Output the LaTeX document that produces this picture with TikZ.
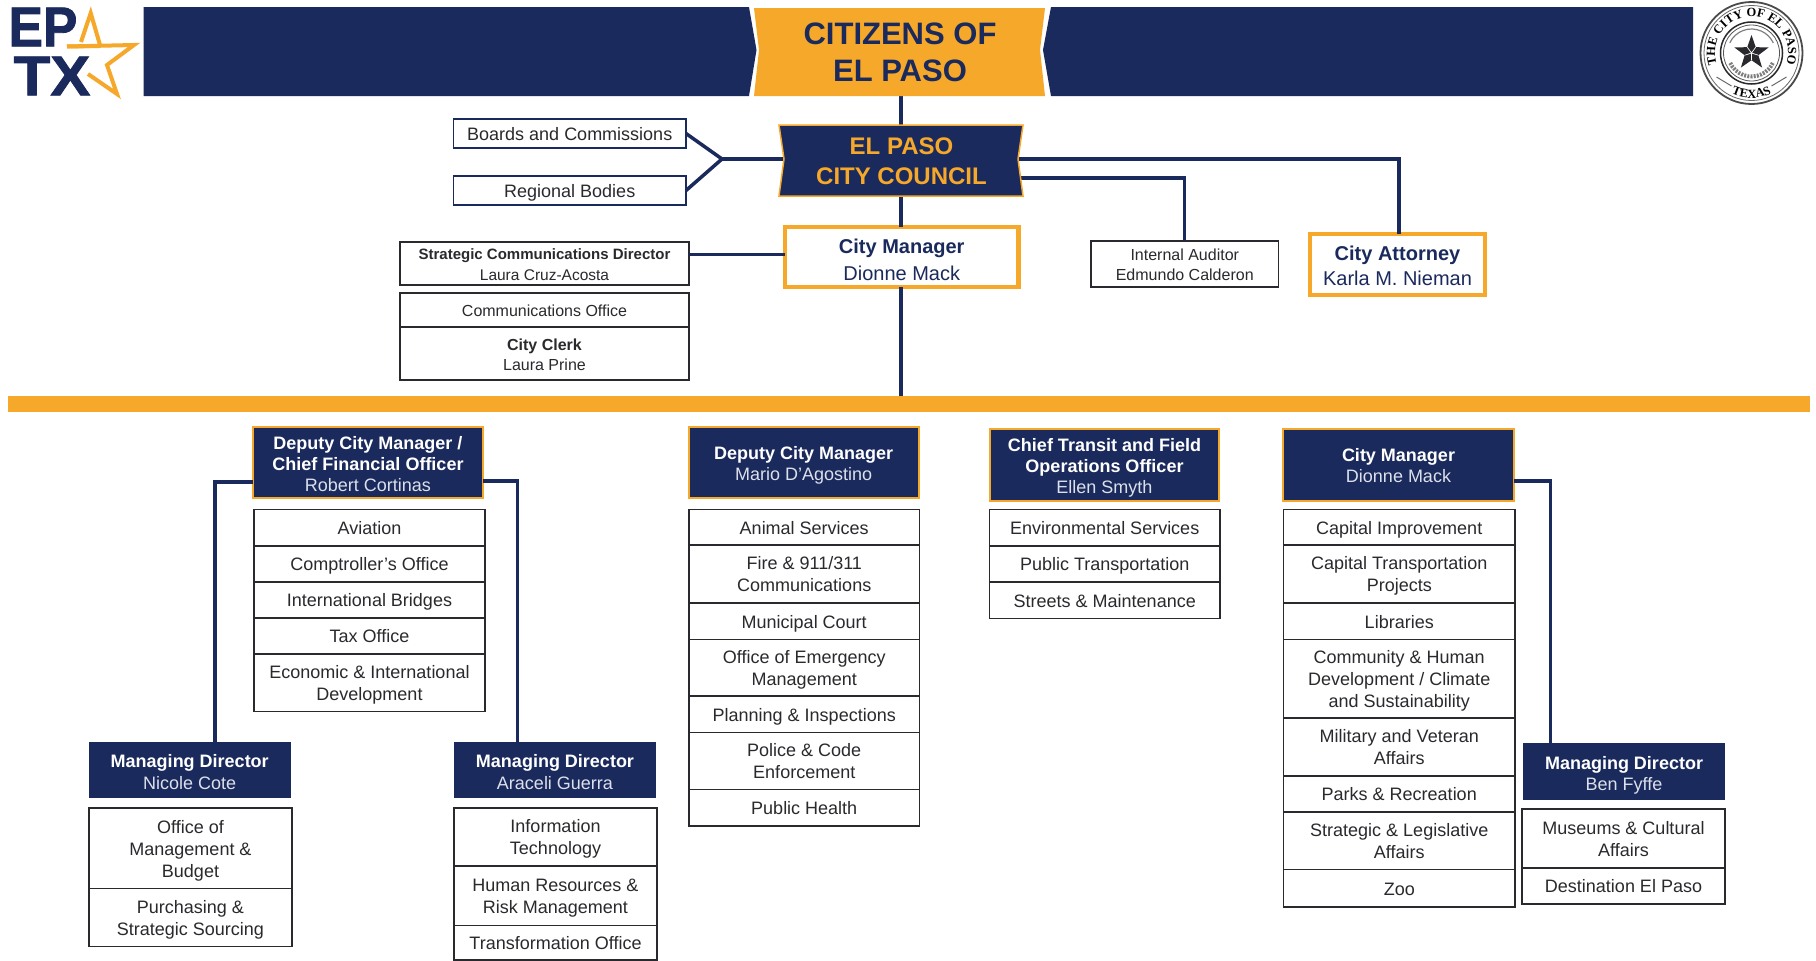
\documentclass[tikz,border=0pt]{standalone}
\usepackage{fontspec}
\setmainfont{Liberation Sans}
\newfontfamily\heavyf[FakeBold=1.5]{Liberation Sans Bold}
\newfontfamily\sealfam{Liberation Serif}
\usetikzlibrary{shapes.geometric,decorations.text}
\definecolor{navy}{HTML}{1B2A5C}
\definecolor{gold}{HTML}{F6A82A}
\definecolor{ink}{HTML}{2A2A2E}
\definecolor{pale}{HTML}{DCE0EA}
\newcommand{\px}[2]{\fontsize{#1}{#2}\selectfont}
\newcommand{\sealtext}{\sealfam\bfseries\fontsize{12.5}{13}\selectfont}
\newcommand{\topstrut}{0pt}
\newcommand{\bx}[7]{\node[#1, minimum width={(#5-#3)*1pt}, minimum height={(#6-#4)*1pt}] (#2) at ({(#3+#5)/2},{(#4+#6)/2}) {\rule{0pt}{\topstrut}#7};}
\tikzset{
  x=1pt,y=-1pt,
  base/.style={inner sep=0pt,outer sep=0pt,align=center},
  strutted/.style={base,execute at begin node={\def\topstrut{#1}},execute at end node={\rule[-3.6pt]{0pt}{3.6pt}}},
  plain/.style={strutted=17.4pt,draw=ink,line width=1.7pt,fill=white,text=ink,font=\px{18}{22}},
  small/.style={strutted=17pt,draw=ink,line width=1.7pt,fill=white,text=ink,font=\px{16}{20}},
  thin/.style={strutted=18pt,draw=navy,line width=1.6pt,fill=white,text=ink,font=\px{18}{22}},
  head/.style={strutted=19.2pt,draw=gold,line width=2pt,fill=navy,text=white,font=\px{18}{21}},
  md/.style={strutted=21pt,fill=navy,text=white,font=\px{18}{21.5}},
  goldbox/.style={strutted=#1,draw=gold,line width=4.5pt,fill=white,text=navy,font=\px{20}{27}},
  label/.style={base},
  conn/.style={draw=navy,line width=3.5pt,line join=miter},
}
\begin{document}
\begin{tikzpicture}
\fill[white] (0,0) rectangle (1816,961);
\useasboundingbox (0,0) rectangle (1816,961);

% anchors for the banner shapes
\bx{base}{citizens}{752}{8}{1046}{96}{}
\bx{base}{council}{784}{125}{1018}{196}{}
\bx{goldbox=24pt}{mgr}{785}{227}{1018.5}{287}{\textbf{City Manager}\\Dionne Mack}
\bx{base,fill=gold}{bar}{8}{396}{1810}{412}{}
\bx{thin}{boards}{453.5}{119}{686}{148}{Boards and Commissions}
\bx{thin}{regional}{453.5}{176}{686}{205}{Regional Bodies}
\bx{small}{strategic}{400}{242}{689}{285}{{\px{15}{20}\textbf{Strategic Communications Director}}\\[1pt]\px{15.5}{20}Laura Cruz-Acosta}
\bx{small}{commoff}{400}{293}{689}{327}{Communications Office}
\bx{small}{clerk}{400}{327}{689}{380}{\textbf{City Clerk}\\\px{16}{20}Laura Prine}
\bx{small}{auditor}{1091}{241}{1278.5}{287}{Internal Auditor\\Edmundo Calderon}
\bx{goldbox=20pt,font=\px{20}{25}}{attorney}{1310}{234}{1485}{295}{\textbf{City Attorney}\\Karla M. Nieman}

% connectors
\coordinate (vx) at (901,0);
\coordinate (j) at (722,159);
\coordinate (c1) at (1399,159);
\coordinate (c2) at (1184.5,178);
\coordinate (c3) at (215,482);
\coordinate (c4) at (517.5,481);
\coordinate (c5) at (1550.5,481);
\coordinate (c6) at (785,254);
\draw[conn] (citizens.south -| vx) -- (council.north -| vx);
\draw[conn] (council.south -| vx) -- (mgr.north -| vx);
\draw[conn] (mgr.south -| vx) -- (bar.north -| vx);
\draw[conn] (boards.east) -- (j) -- (regional.east);
\draw[conn] (j) -- (council.west |- j);
\draw[conn] (council.east |- c1) -- (c1) -- (attorney.north -| c1);
\draw[conn] (council.east |- c2) -- (c2) -- (auditor.north -| c2);
\draw[conn,line width=3pt] (strategic.east |- c6) -- (c6);

% top banner
\fill[navy] (143.5,7) -- (749,7) -- (756.5,50) -- (749,96) -- (143.5,96) -- cycle;
\fill[navy] (1051,7) -- (1693,7) -- (1693,96) -- (1051,96) -- (1043,50) -- cycle;
\fill[gold] (754,8) -- (1045,8) -- (1040,50) -- (1045,96) -- (754,96) -- (759,50) -- cycle;
\node[label,text=navy,font=\px{31}{37}\bfseries] (citizenstxt) at (900,52) {CITIZENS OF\\EL PASO};

% council banner
\filldraw[fill=navy,draw=gold,line width=1.5pt] (779,125) -- (1023,125) -- (1018,159) -- (1023,196) -- (779,196) -- (784,159) -- cycle;
\node[label,text=gold,font=\px{24}{30}\bfseries] (counciltxt) at (901.5,161) {EL PASO\\CITY COUNCIL};

% logo
\node[label,text=navy,font=\heavyf\px{56}{56}] (ep) at (43,27) {\scalebox{.92}[1]{EP}};
\node[label,text=navy,font=\heavyf\px{56}{56}] (tx) at (52,76) {\scalebox{1.07}[1]{TX}};
\draw[gold,line width=4pt,line join=miter] (81,42) -- (90.7,13) -- (100,45) (67,46.5) -- (134,45) -- (107,65) -- (117,94) -- (88,74);
\draw[gold,line width=4pt] (100,46) -- (67,46.5);

% seal
\begin{scope}[shift={(1751.5,53)}]
  \draw[ink!85,line width=1.8pt] (0,0) circle[radius=51pt];
  \draw[ink!70,line width=0.8pt] (0,0) circle[radius=47.5pt];
  \draw[ink,line width=1.5pt] (0,0) circle[radius=31pt];
  \draw[ink!80,line width=0.8pt] (0,0) circle[radius=28pt];
  \draw[ink!60,line width=4pt,dash pattern=on 2pt off 1.2pt] (205:23.5pt) arc[start angle=205,end angle=335,radius=23.5pt];
  \draw[ink!60,line width=1.2pt] (155:24pt) arc[start angle=155,end angle=25,radius=24pt];
  \node[star,star points=5,star point ratio=2.5,fill=ink,inner sep=0pt,outer sep=0pt,minimum size=36pt] (sealstar) at (0pt,0pt) {};
  \draw[white,line width=0.7pt] (sealstar.center) -- (sealstar.inner point 1) (sealstar.center) -- (sealstar.inner point 2) (sealstar.center) -- (sealstar.inner point 3) (sealstar.center) -- (sealstar.inner point 4) (sealstar.center) -- (sealstar.inner point 5);
  \path[decorate,decoration={text along path,text align=center,text={|\sealtext|THE CITY OF EL PASO}}]
    (212:36.5pt) arc[start angle=212,end angle=-32,radius=36.5pt];
  \path[decorate,decoration={text along path,text align=center,text={|\sealtext|TEXAS}}]
    (235:45pt) arc[start angle=235,end angle=305,radius=45pt];
  \draw[ink!70,line width=1pt] (-35pt,-24pt) -- (-20pt,-33pt) (35pt,-24pt) -- (20pt,-33pt);
\end{scope}

% Deputy CFO
\bx{head}{dcfo}{253}{427}{483}{498}{\textbf{Deputy City Manager /}\\\textbf{Chief Financial Officer}\\{\color{pale}Robert Cortinas}}
\bx{plain}{a1}{254}{509.5}{485}{546}{Aviation}
\bx{plain}{a2}{254}{546}{485}{582}{Comptroller's Office}
\bx{plain}{a3}{254}{582}{485}{618}{International Bridges}
\bx{plain}{a4}{254}{618}{485}{654}{Tax Office}
\bx{plain}{a5}{254}{654}{485}{711.5}{Economic \& International\\Development}

% Managing directors left
\bx{md}{mdn}{88.5}{742}{291}{798}{\textbf{Managing Director}\\{\color{pale}Nicole Cote}}
\bx{plain}{n1}{89}{808}{292}{888.5}{Office of\\Management \&\\Budget}
\bx{plain}{n2}{89}{888.5}{292}{946.5}{Purchasing \&\\Strategic Sourcing}
\bx{md}{mda}{454}{742}{656}{798}{\textbf{Managing Director}\\{\color{pale}Araceli Guerra}}
\bx{plain}{g1}{454}{808}{657}{866}{Information\\Technology}
\bx{plain}{g2}{454}{866}{657}{925.5}{Human Resources \&\\Risk Management}
\bx{plain}{g3}{454}{925.5}{657}{960}{Transformation Office}
\draw[conn] (dcfo.west |- c3) -- (c3) -- (mdn.north -| c3);
\draw[conn] (dcfo.east |- c4) -- (c4) -- (mda.north -| c4);

% Deputy City Manager
\bx{head}{dcm}{688.5}{427}{919}{498}{\textbf{Deputy City Manager}\\{\color{pale}Mario D'Agostino}}
\bx{plain}{m1}{689}{509.5}{919.5}{545}{Animal Services}
\bx{plain}{m2}{689}{545}{919.5}{603}{Fire \& 911/311\\Communications}
\bx{plain}{m3}{689}{603}{919.5}{639.5}{Municipal Court}
\bx{plain}{m4}{689}{639.5}{919.5}{696}{Office of Emergency\\Management}
\bx{plain}{m5}{689}{696}{919.5}{732.5}{Planning \& Inspections}
\bx{plain}{m6}{689}{732.5}{919.5}{789.5}{Police \& Code\\Enforcement}
\bx{plain}{m7}{689}{789.5}{919.5}{826}{Public Health}

% Chief Transit
\bx{head}{cto}{990}{428.5}{1219}{500.5}{\textbf{Chief Transit and Field}\\\textbf{Operations Officer}\\{\color{pale}Ellen Smyth}}
\bx{plain}{t1}{989.5}{509.5}{1220}{546}{Environmental Services}
\bx{plain}{t2}{989.5}{546}{1220}{582}{Public Transportation}
\bx{plain}{t3}{989.5}{582}{1220}{618.5}{Streets \& Maintenance}

% City Manager
\bx{head}{cm}{1283}{428.5}{1514}{500.5}{\textbf{City Manager}\\{\color{pale}Dionne Mack}}
\bx{plain}{s1}{1283.5}{509.5}{1515}{545}{Capital Improvement}
\bx{plain}{s2}{1283.5}{545}{1515}{603}{Capital Transportation\\Projects}
\bx{plain}{s3}{1283.5}{603}{1515}{639.5}{Libraries}
\bx{plain}{s4}{1283.5}{639.5}{1515}{718}{Community \& Human\\Development / Climate\\and Sustainability}
\bx{plain}{s5}{1283.5}{718}{1515}{776}{Military and Veteran\\Affairs}
\bx{plain}{s6}{1283.5}{776}{1515}{812}{Parks \& Recreation}
\bx{plain}{s7}{1283.5}{812}{1515}{869.5}{Strategic \& Legislative\\Affairs}
\bx{plain}{s8}{1283.5}{869.5}{1515}{907}{Zoo}

% Managing director right
\bx{md}{mdb}{1523}{743}{1725}{800}{\textbf{Managing Director}\\{\color{pale}Ben Fyffe}}
\bx{plain}{b1}{1522}{809}{1725}{868}{Museums \& Cultural\\Affairs}
\bx{plain}{b2}{1522}{868}{1725}{904}{Destination El Paso}
\draw[conn] (cm.east |- c5) -- (c5) -- (mdb.north -| c5);
\end{tikzpicture}
\end{document}
